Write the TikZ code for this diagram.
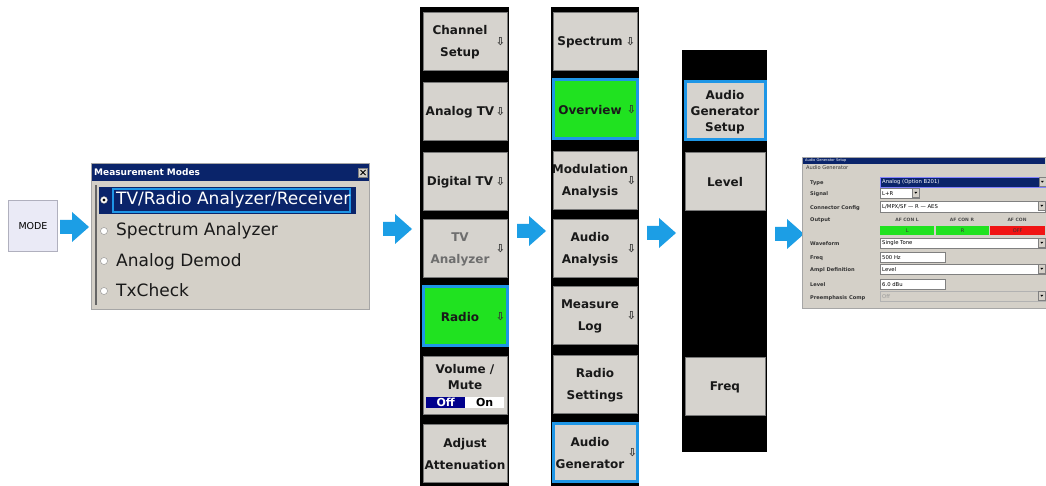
\documentclass[tikz,border=0pt]{standalone}
\usepackage{fontspec}
\setmainfont{DejaVu Sans}
\newcommand\fsz[2]{\fontsize{#1}{#2}\selectfont}
\definecolor{arrowblue}{RGB}{28,158,229}
\definecolor{keygray}{RGB}{214,211,206}
\definecolor{keyedge}{RGB}{120,120,120}
\definecolor{keygreen}{RGB}{32,226,32}
\definecolor{hlblue}{RGB}{30,150,230}
\definecolor{navy}{RGB}{10,36,106}
\definecolor{dlggray}{RGB}{212,208,200}
\definecolor{modefill}{RGB}{234,234,246}
\definecolor{modeedge}{RGB}{176,176,190}
\definecolor{toggleblue}{RGB}{0,0,140}
\definecolor{dimtext}{RGB}{110,110,110}
\definecolor{outred}{RGB}{240,20,20}
\definecolor{typeedge}{RGB}{130,130,255}
\definecolor{fieldedge}{RGB}{128,128,128}
\definecolor{keytextcol}{RGB}{25,25,25}
\newcommand\softkey[5]{\node[softkey,#3] (#1) at (#2) {};
  \node[keytext,#4] (#1t) at (#1.center) {#5};}
\newcommand\keyarrow[2]{\node[downmark] (#1a) at ([xshift=#2,yshift=-1pt]#1.east) {⇩};}
\newcommand\field[6]{\node[field,minimum width=#3,minimum height=#4,#5] (#1) at (#2) {};
  \node[fieldtext] (#1t) at ([xshift=2pt]#1.west) {#6};}
\newcommand\dropdown[1]{\node[ddbtn,minimum height=\pgfkeysvalueof{/tikz/ddh}] (#1dd) at (#1.north east) {};
  \fill[black] ([xshift=-1.5pt,yshift=0.8pt]#1dd.center) -- ([xshift=1.5pt,yshift=0.8pt]#1dd.center) -- ([yshift=-1pt]#1dd.center) -- cycle;}
\begin{document}
\begin{tikzpicture}[x=1pt,y=-1pt,
  ddh/.initial=9pt,
  softkey/.style={draw=keyedge,fill=keygray,line width=0.8pt,minimum width=84pt,minimum height=58pt,inner sep=0pt},
  keytext/.style={font=\bfseries\fsz{12}{22},align=center,text=keytextcol,inner sep=0pt,yshift=-1.5pt},
  hotkey/.style={fill=keygreen,draw=hlblue,line width=3pt,minimum height=59pt},
  selkey/.style={draw=hlblue,line width=3pt},
  downmark/.style={font=\bfseries\fsz{11}{11},text=black!80,inner sep=0pt},
  panel/.style={fill=black,anchor=north west,inner sep=0pt},
  barrow/.pic={\fill[arrowblue] (0,-7) -- (12,-7) -- (12,-15) -- (29,0) -- (12,15) -- (12,7) -- (0,7) -- cycle;},
  mmtext/.style={anchor=base west,font=\fsz{17}{17},text=black!90,inner sep=0pt},
  radio/.style={circle,draw=black!45,fill=white,minimum size=7pt,inner sep=0pt},
  field/.style={draw=fieldedge,fill=white,anchor=north west,inner sep=0pt,line width=0.5pt},
  fieldtext/.style={anchor=west,font=\fsz{5.3}{6},text=black,inner sep=0pt},
  lbl/.style={anchor=base west,font=\bfseries\fsz{5.1}{6},text=black!80,inner sep=0pt},
  cell/.style={anchor=north west,inner sep=0pt,minimum height=9pt,font=\fsz{5}{6},text=black!80},
  ddbtn/.style={draw=fieldedge,fill=dlggray,anchor=north east,inner sep=0pt,minimum width=7pt,line width=0.4pt}
]
\useasboundingbox (0,0) rectangle (1046,486);
\fill[white] (0,0) rectangle (1046,486);

% MODE key
\node[draw=modeedge,fill=modefill,line width=1.2pt,minimum width=49pt,minimum height=51pt,inner sep=0pt] (mode) at (33,226) {\fsz{9.5}{10}MODE};
\pic at (60,227) {barrow};

% Measurement Modes dialog
\node[draw=black!35,fill=dlggray,anchor=north west,minimum width=278pt,minimum height=146pt,inner sep=0pt] (mm) at (91,163) {};
\node[fill=navy,anchor=north west,minimum width=277pt,minimum height=17pt,inner sep=0pt] (mmtitle) at (92,164) {};
\node[anchor=west,font=\bfseries\fsz{9}{9},text=white,inner sep=0pt] (mmtitlet) at (94,172.5) {Measurement Modes};
\node[draw=black!50,fill=dlggray,minimum size=9pt,inner sep=0pt] (mmclose) at (363,172.5) {};
\draw[black,line width=0.8pt] ([shift={(-2.5,-2.5)}]mmclose.center) -- ([shift={(2.5,2.5)}]mmclose.center)
  ([shift={(-2.5,2.5)}]mmclose.center) -- ([shift={(2.5,-2.5)}]mmclose.center);
\draw[black!60,line width=1.2pt] (96,185) -- (96,305);
\fill[navy] (99,187) rectangle (356,214);
\draw[hlblue,line width=1.6pt] (113,189) rectangle (350,212);
\node[radio] (r1) at (104,200) {};
\fill[black] (r1.center) circle (1.6);
\node[radio] (r2) at (104,231) {};
\node[radio] (r3) at (104,261) {};
\node[radio] (r4) at (104,291) {};
\node[mmtext,text=white] (m1) at (116,205) {TV/Radio Analyzer/Receiver};
\node[mmtext] (m2) at (116,236) {Spectrum Analyzer};
\node[mmtext] (m3) at (116,266) {Analog Demod};
\node[mmtext] (m4) at (116,296) {TxCheck};
\pic at (383,229) {barrow};

% Column 1
\node[panel,minimum width=89pt,minimum height=479pt] (p1) at (420,7) {};
\softkey{k11}{465,41}{}{xshift=-5pt}{Channel\\Setup}
\keyarrow{k11}{-7pt}
\softkey{k12}{465,111}{}{xshift=-5pt}{Analog TV}
\keyarrow{k12}{-7pt}
\softkey{k13}{465,181}{}{xshift=-5pt}{Digital TV}
\keyarrow{k13}{-7pt}
\softkey{k14}{465,248}{}{xshift=-5pt,text=dimtext}{TV\\Analyzer}
\keyarrow{k14}{-7pt}
\softkey{k15}{465,316}{hotkey}{xshift=-5pt}{Radio}
\keyarrow{k15}{-8pt}
\softkey{k16}{465,385}{}{font=\bfseries\fsz{12}{16},yshift=9pt}{Volume /\\Mute}
\node[fill=toggleblue,anchor=north west,minimum width=39pt,minimum height=11pt,inner sep=0pt,text=white,font=\bfseries\fsz{11}{11}] (voff) at (426,397) {Off};
\node[fill=white,anchor=north west,minimum width=39pt,minimum height=11pt,inner sep=0pt,text=black,font=\bfseries\fsz{11}{11}] (von) at (465,397) {On};
\softkey{k17}{465,453}{}{}{Adjust\\Attenuation}
\pic at (517,231) {barrow};

% Column 2
\node[panel,minimum width=88pt,minimum height=479pt] (p2) at (551,7) {};
\softkey{k21}{595,41}{}{xshift=-5pt}{Spectrum}
\keyarrow{k21}{-7pt}
\softkey{k22}{595,109}{hotkey}{xshift=-5pt}{Overview}
\keyarrow{k22}{-7pt}
\softkey{k23}{595,180}{}{xshift=-5pt}{Modulation\\Analysis}
\keyarrow{k23}{-6pt}
\softkey{k24}{595,248}{}{xshift=-5pt}{Audio\\Analysis}
\keyarrow{k24}{-6pt}
\softkey{k25}{595,315}{}{xshift=-5pt}{Measure\\Log}
\keyarrow{k25}{-6pt}
\softkey{k26}{595,384}{}{}{Radio\\Settings}
\softkey{k27}{595,452}{selkey}{xshift=-5pt}{Audio\\Generator}
\keyarrow{k27}{-6pt}
\pic at (647,233) {barrow};

% Column 3
\node[panel,minimum width=85pt,minimum height=402pt] (p3) at (682,50) {};
\softkey{k31}{725,111}{selkey,minimum width=80pt}{font=\bfseries\fsz{12}{16}}{Audio\\Generator\\Setup}
\softkey{k32}{725,181}{minimum width=80pt}{}{Level}
\softkey{k33}{725,386}{minimum width=80pt}{}{Freq}
\pic at (775,234) {barrow};

% Audio Generator Setup dialog
\node[draw=black!35,fill=dlggray,anchor=north west,minimum width=244pt,minimum height=151pt,inner sep=0pt] (ag) at (802,157) {};
\node[fill=navy,anchor=north west,minimum width=242pt,minimum height=6pt,inner sep=0pt] (agtitle) at (803,158) {};
\node[anchor=west,font=\fsz{3.6}{4},text=white,inner sep=0pt] (agtitlet) at (805,161) {Audio Generator Setup};
\node[lbl,font=\fsz{5.1}{6}] (l0) at (806,170) {Audio Generator};
\node[lbl] (l1) at (810,185) {Type};
\node[lbl] (l2) at (810,196) {Signal};
\node[lbl] (l3) at (810,209.5) {Connector Config};
\node[lbl] (l4) at (810,222) {Output};
\node[lbl] (l5) at (810,246) {Waveform};
\node[lbl] (l6) at (810,260) {Freq};
\node[lbl] (l7) at (810,272) {Ampl Definition};
\node[lbl] (l8) at (810,287) {Level};
\node[lbl] (l9) at (810,299) {Preemphasis Comp};

\field{fa}{880,177}{165pt}{10pt}{fill=navy,draw=typeedge,line width=1pt}{\color{white}Analog (Option B201)}
\dropdown{fa}
\field{fb}{880,188}{39pt}{10pt}{}{L+R}
\dropdown{fb}
\field{fc}{880,201}{165pt}{11pt}{}{L/MPX/SF --- R --- AES}
\dropdown{fc}
\node[font=\bfseries\fsz{4.5}{5},text=black!70,inner sep=0pt] (h1) at (907,219.5) {AF CON L};
\node[font=\bfseries\fsz{4.5}{5},text=black!70,inner sep=0pt] (h2) at (962,219.5) {AF CON R};
\node[font=\bfseries\fsz{4.5}{5},text=black!70,inner sep=0pt] (h3) at (1017,219.5) {AF CON};
\node[cell,fill=keygreen,minimum width=54pt] (o1) at (880,226) {L};
\node[cell,fill=keygreen,minimum width=53pt] (o2) at (936,226) {R};
\node[cell,fill=outred,minimum width=55pt] (o3) at (990,226) {OFF};
\field{fd}{880,238}{165pt}{10pt}{}{Single Tone}
\dropdown{fd}
\field{fe}{880,252}{65pt}{10pt}{}{500 Hz}
\field{ff}{880,264}{165pt}{10pt}{}{Level}
\dropdown{ff}
\field{fg}{880,279}{65pt}{10pt}{}{6.0 dBu}
\field{fh}{880,291}{165pt}{10pt}{fill=dlggray,draw=black!30}{\color{black!40}Off}
\dropdown{fh}
\end{tikzpicture}
\end{document}
